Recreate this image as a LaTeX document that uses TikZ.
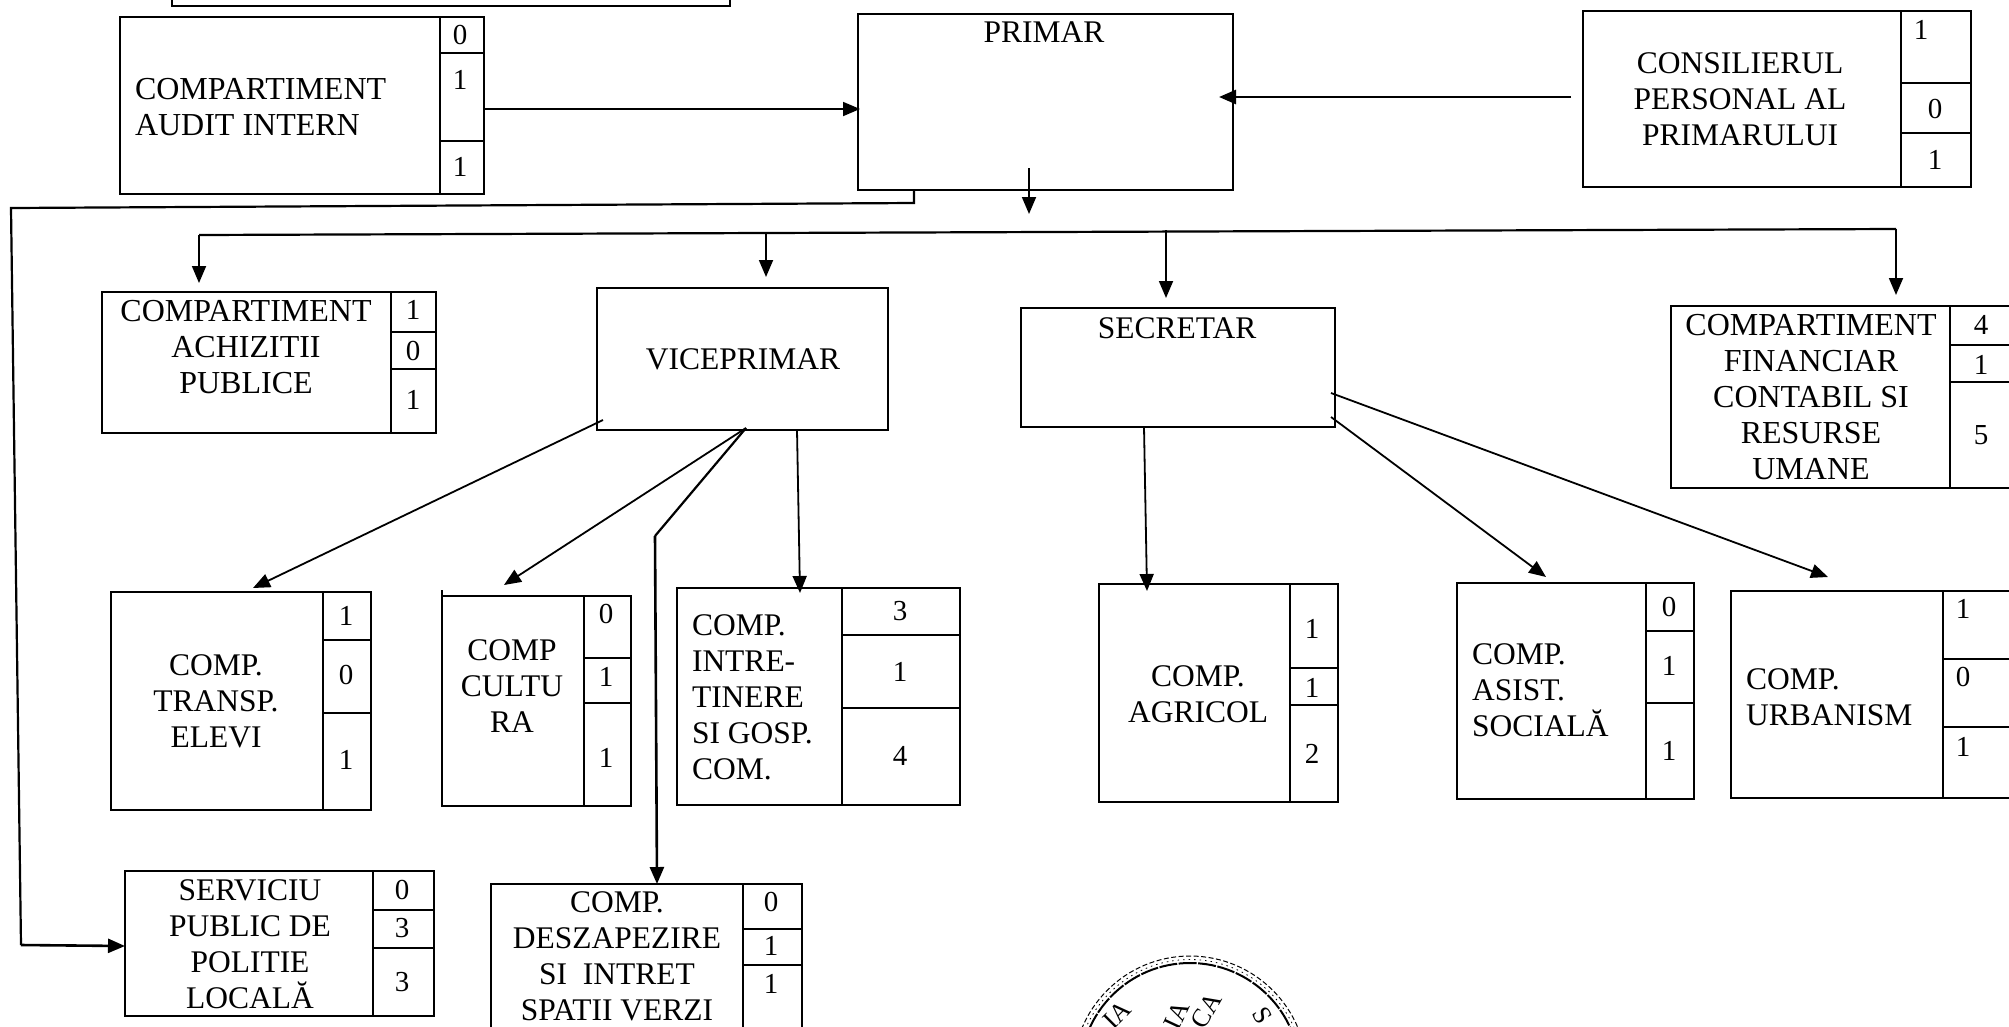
\documentclass[tikz,border=0pt]{standalone}
\usepackage{fontspec}
\setmainfont{Liberation Serif}
\usetikzlibrary{arrows.meta,calc}
\tikzset{
  frame/.style={draw=black,line width=1.8pt,rectangle,inner sep=0pt,outer sep=0pt,fill=none},
  divider/.style={draw=black,line width=1.8pt},
  label/.style={inner sep=0pt,outer sep=0pt,text=black,font=\fontsize{31.5}{36}\selectfont,align=center,anchor=center},
  widelabel/.style={label,font=\fontsize{32}{36}\selectfont},
  llabel/.style={label,align=left,anchor=west},
  numlabel/.style={inner sep=0pt,outer sep=0pt,text=black,font=\fontsize{29}{34}\selectfont},
  arr/.style={draw=black,line width=1.8pt,-{Triangle[length=17pt,width=14pt]}},
  heavyarr/.style={arr,line width=2.6pt},
  stamp/.style={inner sep=0pt,font=\fontsize{26}{30}\selectfont},
}
% name x1 y1 x2 y2
\newcommand{\ofbox}[5]{\node[frame,minimum width={#4pt-#2pt},minimum height={#5pt-#3pt}] (#1) at ({(#2+#4)/2},{(#3+#5)/2}) {};}
% name divider-x c1 c2
\newcommand{\ofcells}[4]{\path (#1.north west) coordinate (tmpa) (#1.south east) coordinate (tmpb);
  \draw[divider] (#2,0 |- tmpa) -- (#2,0 |- tmpb);
  \draw[divider] (#2,#3) -- (#2,#3 -| tmpb);
  \draw[divider] (#2,#4) -- (#2,#4 -| tmpb);}
\begin{document}
\begin{tikzpicture}[x=1pt,y=-1pt]
\useasboundingbox (0,0) rectangle (2009,1026);
\clip (0,0) rectangle (2009,1026);
\fill[white] (0,0) rectangle (2009,1026);

\ofbox{topbox}{172}{-20}{730}{6}

% Audit
\ofbox{audit}{120}{17}{484}{194}
\ofcells{audit}{440}{53}{141}
\node[widelabel,align=left,anchor=west] (audittxt) at (135,107) {COMPARTIMENT\\AUDIT INTERN};
\node[numlabel] (auditA) at (460,35) {0};
\node[numlabel] (auditB) at (460,80) {1};
\node[numlabel] (auditC) at (460,167) {1};

% Primar
\ofbox{primar}{858}{14}{1233}{190}
\node[label] (primartxt) at (1044,32) {PRIMAR};

% Consilier
\ofbox{cons}{1583}{11}{1971}{187}
\ofcells{cons}{1901}{83}{133}
\node[label] (constxt) at (1740,99) {CONSILIERUL\\PERSONAL AL\\PRIMARULUI};
\node[numlabel] (consA) at (1921,30) {1};
\node[numlabel] (consB) at (1935,109) {0};
\node[numlabel] (consC) at (1935,160) {1};

% Achizitii
\ofbox{achiz}{102}{292}{436}{433}
\ofcells{achiz}{391}{332}{369}
\node[widelabel] (achiztxt) at (246,347) {COMPARTIMENT\\ACHIZITII\\PUBLICE};
\node[numlabel] (achizA) at (413,310) {1};
\node[numlabel] (achizB) at (413,351) {0};
\node[numlabel] (achizC) at (413,400) {1};

% Viceprimar
\ofbox{vice}{597}{288}{888}{430}
\node[label] (vicetxt) at (743,359) {VICEPRIMAR};

% Secretar
\ofbox{secr}{1021}{308}{1335}{427}
\node[label] (secrtxt) at (1177,328) {SECRETAR};

% Financiar
\ofbox{fin}{1671}{306}{2040}{488}
\ofcells{fin}{1950}{345}{382}
\node[widelabel] (fintxt) at (1811,397) {COMPARTIMENT\\FINANCIAR\\CONTABIL SI\\RESURSE\\UMANE};
\node[numlabel] (finA) at (1981,325) {4};
\node[numlabel] (finB) at (1981,365) {1};
\node[numlabel] (finC) at (1981,435) {5};

% Transp
\ofbox{transp}{111}{592}{371}{810}
\ofcells{transp}{323}{640}{713}
\node[label] (transptxt) at (216,701) {COMP.\\TRANSP.\\ELEVI};
\node[numlabel] (transpA) at (346,616) {1};
\node[numlabel] (transpB) at (346,675) {0};
\node[numlabel] (transpC) at (346,760) {1};

% Cultura
\ofbox{cult}{442}{596}{631}{806}
\ofcells{cult}{584}{658}{703}
\draw[divider] (cult.north west) -- ++(0,-6);
\node[label] (culttxt) at (512,686) {COMP\\CULTU\\RA};
\node[numlabel] (cultA) at (606,614) {0};
\node[numlabel] (cultB) at (606,677) {1};
\node[numlabel] (cultC) at (606,758) {1};

% Intretinere
\ofbox{intre}{677}{588}{960}{805}
\ofcells{intre}{842}{635}{708}
\node[llabel] (intretxt) at (692,697) {COMP.\\INTRE-\\TINERE\\SI GOSP.\\COM.};
\node[numlabel] (intreA) at (900,611) {3};
\node[numlabel] (intreB) at (900,672) {1};
\node[numlabel] (intreC) at (900,756) {4};

% Agricol
\ofbox{agri}{1099}{584}{1338}{802}
\ofcells{agri}{1290}{668}{705}
\node[label] (agritxt) at (1198,694) {COMP.\\AGRICOL};
\node[numlabel] (agriA) at (1312,629) {1};
\node[numlabel] (agriB) at (1312,688) {1};
\node[numlabel] (agriC) at (1312,754) {2};

% Asist
\ofbox{asist}{1457}{583}{1694}{799}
\ofcells{asist}{1646}{631}{703}
\node[llabel] (asisttxt) at (1472,690) {COMP.\\ASIST.\\SOCIALĂ};
\node[numlabel] (asistA) at (1669,607) {0};
\node[numlabel] (asistB) at (1669,666) {1};
\node[numlabel] (asistC) at (1669,751) {1};

% Urbanism
\ofbox{urb}{1731}{591}{2040}{798}
\ofcells{urb}{1943}{659}{727}
\node[llabel] (urbtxt) at (1746,697) {COMP.\\URBANISM};
\node[numlabel] (urbA) at (1963,609) {1};
\node[numlabel] (urbB) at (1963,677) {0};
\node[numlabel] (urbC) at (1963,747) {1};

% Serviciu
\ofbox{serv}{125}{871}{434}{1016}
\ofcells{serv}{373}{910}{948}
\node[label] (servtxt) at (250,944) {SERVICIU\\PUBLIC DE\\POLITIE\\LOCALĂ};
\node[numlabel] (servA) at (402,890) {0};
\node[numlabel] (servB) at (402,928) {3};
\node[numlabel] (servC) at (402,982) {3};

% Deszapezire
\ofbox{desz}{491}{884}{802}{1060}
\ofcells{desz}{743}{929}{965}
\node[label] (desztxt) at (617,956) {COMP.\\DESZAPEZIRE\\SI\ \ INTRET\\SPATII VERZI};
\node[numlabel] (deszA) at (771,902) {0};
\node[numlabel] (deszB) at (771,946) {1};
\node[numlabel] (deszC) at (771,984) {1};

% Bus coordinates
\coordinate (busL) at (199,235);
\coordinate (busR) at (1896,229);
\coordinate (busV) at (766,232);
\coordinate (busS) at (1166,230);
\coordinate (primarOut) at (1029,168);
\coordinate (primarTip) at (1029,214);
\coordinate (consOut) at (1571,97);
\coordinate (viceApex) at (746,428);
\coordinate (viceBend) at (655,536);
\coordinate (corner1) at (11,208);
\coordinate (corner2) at (21,945);
\coordinate (corner0) at (914,203);

\draw[arr] (audit.east |- 0,109) -- (860,109);
\draw[heavyarr] (consOut) -- (1219,97);
\draw[arr] (primarOut) -- (primarTip);
\draw[line width=2.2pt] (busL) -- (busR);
\draw[arr] (busL) -- (199,283);
\draw[arr] (busV) -- (766,277);
\draw[arr] (busS) -- (1166,298);
\draw[arr] (busR) -- (1896,295);

\draw[line width=2.2pt,line join=miter] (914,190) -- (corner0) -- (corner1) -- (corner2);
\draw[heavyarr] (corner2) -- (serv.west |- 0,946);

\draw[arr] ($(vice.south west)+(6,-10)$) -- ($(transp.north west)+(142,-4)$);
\draw[arr] (viceApex) -- ($(cult.north west)+(62,-11)$);
\draw[line width=2.2pt] (viceApex) -- (viceBend);
\draw[heavyarr] (viceBend) -- (desz.north -| 657,0);
\draw[arr] (vice.south -| 797,0) -- (800,593);

\draw[arr] (secr.south -| 1144,0) -- (1147,591);
\draw[arr] ($(secr.south east)+(-4,-10)$) -- ($(asist.north west)+(89,-6)$);
\draw[arr] ($(secr.south east)+(-4,-34)$) -- ($(urb.north west)+(97,-14)$);

% Stamp
\coordinate (stampc) at (1190,1073);
\draw[line width=1pt,dash pattern=on 5pt off 2.5pt] (stampc) circle[radius=117];
\draw[line width=.8pt,dash pattern=on 1.5pt off 4pt] (stampc) circle[radius=113.5];
\draw[line width=2pt,dash pattern=on 18pt off 1.5pt] (stampc) circle[radius=110];
\node[stamp,rotate=45] (st1) at (1117,1015) {IA};
\node[stamp,rotate=65] (st2) at (1177,1015) {IA};
\node[stamp,rotate=60] (st3) at (1206,1011) {CA};
\node[stamp,rotate=-60] (st4) at (1262,1016) {S};
\end{tikzpicture}
\end{document}
